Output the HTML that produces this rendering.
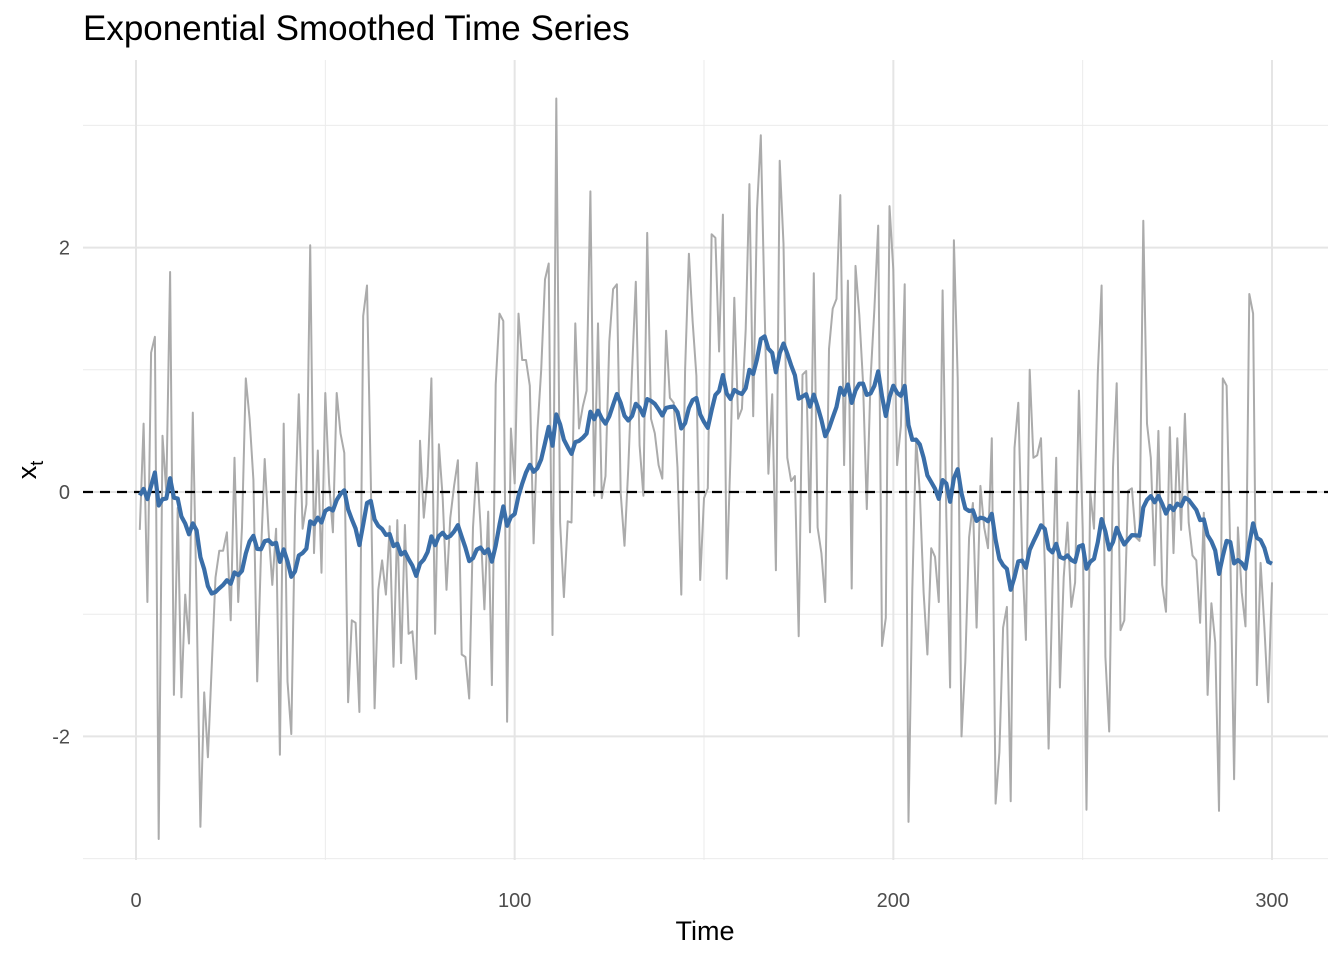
<!DOCTYPE html>
<html><head><meta charset="utf-8">
<style>
html,body{margin:0;padding:0;background:#fff;}
svg{display:block;font-family:"Liberation Sans",Arial,sans-serif;}
</style></head>
<body>
<svg id="chart" width="1344" height="960" viewBox="0 0 1344 960" xmlns="http://www.w3.org/2000/svg">
<text x="83" y="40" font-size="35" fill="#000">Exponential Smoothed Time Series</text>
<g id="grid"></g>
<g id="ticks"></g>
<g id="series"></g>
<text x="705" y="940" font-size="27" text-anchor="middle" fill="#000">Time</text>
<text transform="translate(36,470) rotate(-90)" font-size="27" text-anchor="middle" fill="#000">x<tspan font-size="18" dy="7">t</tspan></text>
</svg>
<script>
const rawValues = [-0.31,0.56,-0.9,1.14,1.27,-2.84,0.46,0.0,1.8,-1.66,
-0.13,-1.68,-0.84,-1.24,0.65,-0.9,-2.74,-1.64,-2.17,-1.43,
-0.7,-0.48,-0.48,-0.33,-1.05,0.28,-0.9,-0.29,0.93,0.6,
0.1,-1.55,-0.5,0.27,-0.31,-0.76,-0.3,-2.15,0.56,-1.55,
-1.98,-0.2,0.8,-0.3,-0.1,2.02,-0.5,0.34,-0.66,0.81,
0.07,-0.33,0.81,0.48,0.32,-1.72,-1.05,-1.07,-1.8,1.44,
1.69,0.1,-1.77,-0.8,-0.56,-0.84,-0.28,-1.43,-0.23,-1.4,
-0.27,-1.16,-1.14,-1.53,0.42,-0.21,0.13,0.93,-1.16,0.39,
-0.05,-0.8,-0.21,0.05,0.26,-1.33,-1.35,-1.69,-0.29,0.24,
-0.29,-0.96,-0.16,-1.58,0.88,1.46,1.4,-1.88,0.52,0.07,
1.46,1.08,1.08,0.87,-0.42,0.5,1.0,1.74,1.87,-1.17,
3.22,-0.25,-0.86,-0.24,-0.25,1.38,0.52,0.7,0.83,2.46,
-0.03,1.38,-0.05,0.13,1.23,1.66,1.7,-0.01,-0.44,0.2,
1.0,1.72,0.38,-0.03,2.12,0.6,0.48,0.22,0.11,1.32,
0.77,0.73,0.2,-0.84,1.0,1.95,1.4,0.95,-0.72,-0.05,
0.03,2.11,2.08,1.15,2.27,-0.71,0.3,1.59,0.6,0.68,
1.33,2.52,0.62,2.31,2.92,1.5,0.15,0.8,-0.64,2.71,
2.03,0.28,0.09,0.13,-1.18,0.96,0.99,-0.33,1.79,-0.29,
-0.5,-0.9,1.17,1.5,1.58,2.43,0.22,1.73,-0.79,1.85,
1.45,0.9,-0.14,0.93,1.5,2.18,-1.26,-1.03,2.34,1.82,
0.22,0.54,1.7,-2.7,-0.8,0.44,0.0,-0.82,-1.33,-0.46,
-0.53,-0.9,1.65,-0.2,-1.6,2.06,0.93,-2.0,-1.39,-0.37,
-0.09,-1.11,0.05,-0.29,-0.46,0.44,-2.55,-2.13,-1.11,-0.94,
-2.53,0.36,0.73,-0.5,-1.21,1.0,0.28,0.3,0.44,-0.6,
-2.1,-0.8,0.28,-1.6,-0.7,-0.25,-0.94,-0.74,0.83,-0.3,
-2.6,0.0,-0.3,0.97,1.69,-1.35,-1.96,0.2,0.89,-1.13,
-1.05,0.01,0.03,-0.37,-0.4,2.22,0.56,0.28,-0.6,0.5,
-0.76,-0.98,0.53,-0.5,0.44,-0.31,0.64,-0.25,-0.52,-0.56,
-1.07,-0.17,-1.66,-0.91,-1.23,-2.61,0.93,0.87,-0.5,-2.35,
-0.29,-0.82,-1.1,1.62,1.46,-1.58,-0.58,-1.11,-1.72,-0.74];
const smoothingAlpha = 0.09;
const xTicks = [0,100,200,300];
const xMinor = [50,150,250];
const yTicks = [-2,0,2];
const yMinor = [-3,-1,1,3];

const NS="http://www.w3.org/2000/svg";
const L=83,R=1328,T=60,B=860;
const xs=t=>136+(t)*(1272-136)/300;
const ys=v=>492-v*122.2;
function mk(tag,attrs,parent){const e=document.createElementNS(NS,tag);for(const k in attrs)e.setAttribute(k,attrs[k]);parent.appendChild(e);return e;}
const grid=document.getElementById('grid'),ticks=document.getElementById('ticks'),series=document.getElementById('series');

yMinor.forEach(v=>{const l=mk('line',{x1:L,x2:R,y1:ys(v),y2:ys(v),stroke:'#ebebeb','stroke-width':1},grid);

});
xMinor.forEach(v=>{const l=mk('line',{x1:xs(v),x2:xs(v),y1:T,y2:B,stroke:'#ebebeb','stroke-width':1},grid);

});
yTicks.forEach(v=>{const l=mk('line',{x1:L,x2:R,y1:ys(v),y2:ys(v),stroke:'#e5e5e5','stroke-width':2},grid);


const t=mk('text',{x:70,y:ys(v)+7,'font-size':20,'text-anchor':'end',fill:'#4d4d4d'},ticks);t.textContent=v;

});
xTicks.forEach(v=>{const l=mk('line',{x1:xs(v),x2:xs(v),y1:T,y2:B,stroke:'#e5e5e5','stroke-width':2},grid);


const t=mk('text',{x:xs(v),y:907,'font-size':20,'text-anchor':'middle',fill:'#4d4d4d'},ticks);t.textContent=v;

});

const rawPts=rawValues.map((v,i)=>xs(i+1).toFixed(1)+','+ys(v).toFixed(1)).join(' ');
const raw=mk('polyline',{points:rawPts,fill:'none',stroke:'#ababab','stroke-width':2,'stroke-linejoin':'round'},series);



const zero=mk('line',{x1:L,x2:R,y1:ys(0),y2:ys(0),stroke:'#000','stroke-width':2.2,'stroke-dasharray':'10,7'},series);



let s=0;const sm=rawValues.map(v=>{s=smoothingAlpha*v+(1-smoothingAlpha)*s;return s;});
const smPts=sm.map((v,i)=>xs(i+1).toFixed(1)+','+ys(v).toFixed(1)).join(' ');
const smooth=mk('polyline',{points:smPts,fill:'none',stroke:'#3a6ea8','stroke-width':4.2,'stroke-linejoin':'round'},series);


</script>
</body></html>
